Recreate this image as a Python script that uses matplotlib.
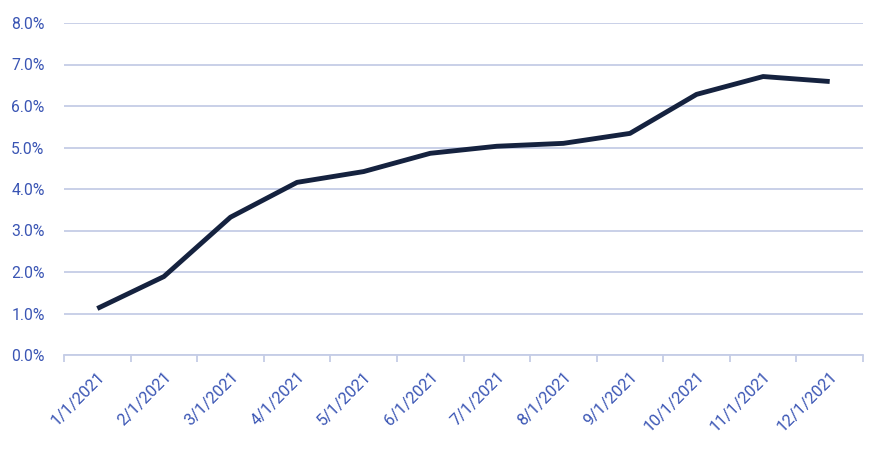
import matplotlib
matplotlib.use("Agg")
import matplotlib.pyplot as plt
from matplotlib.ticker import FuncFormatter, FixedLocator
import numpy as np

months = ["1/1/2021", "2/1/2021", "3/1/2021", "4/1/2021", "5/1/2021", "6/1/2021",
          "7/1/2021", "8/1/2021", "9/1/2021", "10/1/2021", "11/1/2021", "12/1/2021"]
values = [1.12, 1.89, 3.32, 4.16, 4.42, 4.86, 5.03, 5.10, 5.34, 6.28, 6.71, 6.59]

plt.rcParams['font.family'] = ['Roboto', 'DejaVu Sans']
label_color = "#3A55B4"
grid_color = "#C5CDE6"
line_color = "#15223F"

fig = plt.figure(figsize=(8.86, 4.5), dpi=100)
ax = fig.add_axes([64/886, 1-355/450, (863-64)/886, (355-23)/450])

x = np.arange(len(months))
ax.plot(x, values, color=line_color, linewidth=3.5, solid_capstyle='butt', solid_joinstyle='round')

ax.set_xlim(-0.5, len(months) - 0.5)
ax.set_ylim(0, 8)
ax.set_yticks(np.arange(0, 9, 1))
ax.yaxis.set_major_formatter(FuncFormatter(lambda v, p: f"{v:.1f}%"))
ax.grid(axis='y', color=grid_color, linewidth=1.3)
ax.set_axisbelow(True)

ax.set_xticks(x)
ax.set_xticklabels(months, rotation=45, ha='right', rotation_mode='anchor')
ax.xaxis.set_minor_locator(FixedLocator(np.arange(-0.5, len(months), 1)))
ax.tick_params(axis='x', which='major', length=0, pad=10, labelsize=11.8, labelcolor=label_color)
ax.tick_params(axis='x', which='minor', length=5, width=1.3, color=grid_color, direction='out')
ax.tick_params(axis='y', length=0, pad=14, labelsize=11.3, labelcolor=label_color)

for s in ['top', 'right', 'left']:
    ax.spines[s].set_visible(False)
ax.spines['bottom'].set_color(grid_color)
ax.spines['bottom'].set_linewidth(1.3)

fig.savefig("out.png", dpi=100)
